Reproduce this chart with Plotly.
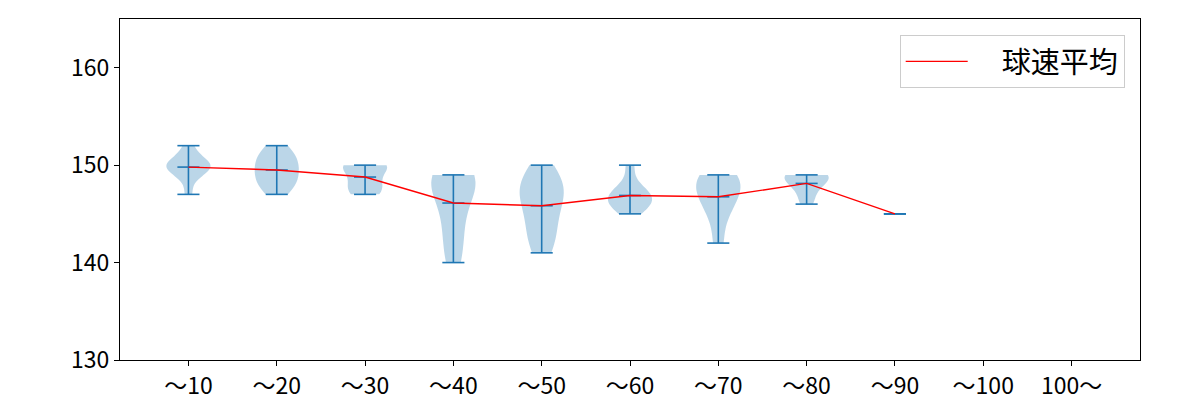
import numpy as np
import plotly.graph_objects as go

categories = ["～10", "～20", "～30", "～40", "～50", "～60", "～70", "～80", "～90", "～100", "100～"]

speeds_10 = [147, 149, 149, 150, 150, 150, 150, 150, 151, 152]
speeds_20 = [147, 148, 148, 149, 149, 150, 150, 151, 151, 152]
speeds_30 = [147, 147, 148, 148, 149, 150, 150, 150, 150]
speeds_40 = [140, 142, 144, 146, 148, 148, 149, 149, 149]
speeds_50 = [141, 142, 143, 144, 145, 146, 147, 147, 148, 148, 149, 150]
speeds_60 = [145, 146, 146, 146, 147, 147, 147, 148, 150]
speeds_70 = [142, 145, 146, 147, 148, 148, 149, 149]
speeds_80 = [146, 147, 148, 148, 149, 149, 149, 149]
speeds_90 = [145]
speeds_100 = []
speeds_100plus = []

groups = [speeds_10, speeds_20, speeds_30, speeds_40, speeds_50, speeds_60,
          speeds_70, speeds_80, speeds_90, speeds_100, speeds_100plus]

legend_label = "球速平均"

BLUE = "#1f77b4"
FONT = "Noto Sans CJK JP"

fig = go.Figure()

positions = list(range(1, len(categories) + 1))

# violin bodies
for pos, vals in zip(positions, groups):
    if len(vals) < 2:
        continue
    arr = np.array(vals, dtype=float)
    bw = arr.std(ddof=1) * len(arr) ** (-0.2)
    fig.add_trace(go.Violin(
        x=[pos] * len(arr), y=arr, width=0.5, spanmode="hard", bandwidth=bw,
        fillcolor="rgba(31,119,180,0.3)", line=dict(width=0, color="rgba(31,119,180,0)"),
        points=False, box_visible=False, meanline_visible=False, showlegend=False,
        hoverinfo="skip", scalemode="width",
    ))

# caps, center lines, means
cx, cy = [], []
mean_x, mean_y = [], []
half = 0.125
for pos, vals in zip(positions, groups):
    if len(vals) == 0:
        continue
    arr = np.array(vals, dtype=float)
    mn, mx, me = arr.min(), arr.max(), arr.mean()
    mean_x.append(pos)
    mean_y.append(me)
    for v in (mn, mx, me):
        cx += [pos - half, pos + half, None]
        cy += [v, v, None]
    cx += [pos, pos, None]
    cy += [mn, mx, None]

fig.add_trace(go.Scatter(x=cx, y=cy, mode="lines", line=dict(color=BLUE, width=1.6),
                         showlegend=False, hoverinfo="skip"))

fig.add_trace(go.Scatter(x=mean_x, y=mean_y, mode="lines", line=dict(color="red", width=1.4),
                         name="\u2003" + legend_label, showlegend=True))

fig.update_layout(
    width=1200, height=400,
    margin=dict(l=120, r=60, t=19, b=40),
    plot_bgcolor="white", paper_bgcolor="white",
    font=dict(family=FONT, size=14, color="black"),
    showlegend=True,
    violinmode="overlay",
    legend=dict(x=0.985, y=0.953, xanchor="right", yanchor="top",
                bgcolor="white", bordercolor="#cccccc", borderwidth=1,
                itemwidth=62,
                font=dict(family=FONT, size=29)),
)
fig.update_xaxes(range=[0.225, 11.775], tickmode="array", tickvals=positions, ticktext=categories,
                 showgrid=False, zeroline=False, showline=True, linecolor="black", linewidth=1,
                 mirror=True, ticks="outside", ticklen=5, tickcolor="black", automargin=False,
                 tickfont=dict(family=FONT, size=23))
fig.update_yaxes(range=[130, 165], tickmode="array", tickvals=[130, 140, 150, 160],
                 showgrid=False, zeroline=False, showline=True, linecolor="black", linewidth=1,
                 mirror=True, ticks="outside", ticklen=5, tickcolor="black", automargin=False,
                 tickfont=dict(family=FONT, size=23))

fig.write_html("out.html")
